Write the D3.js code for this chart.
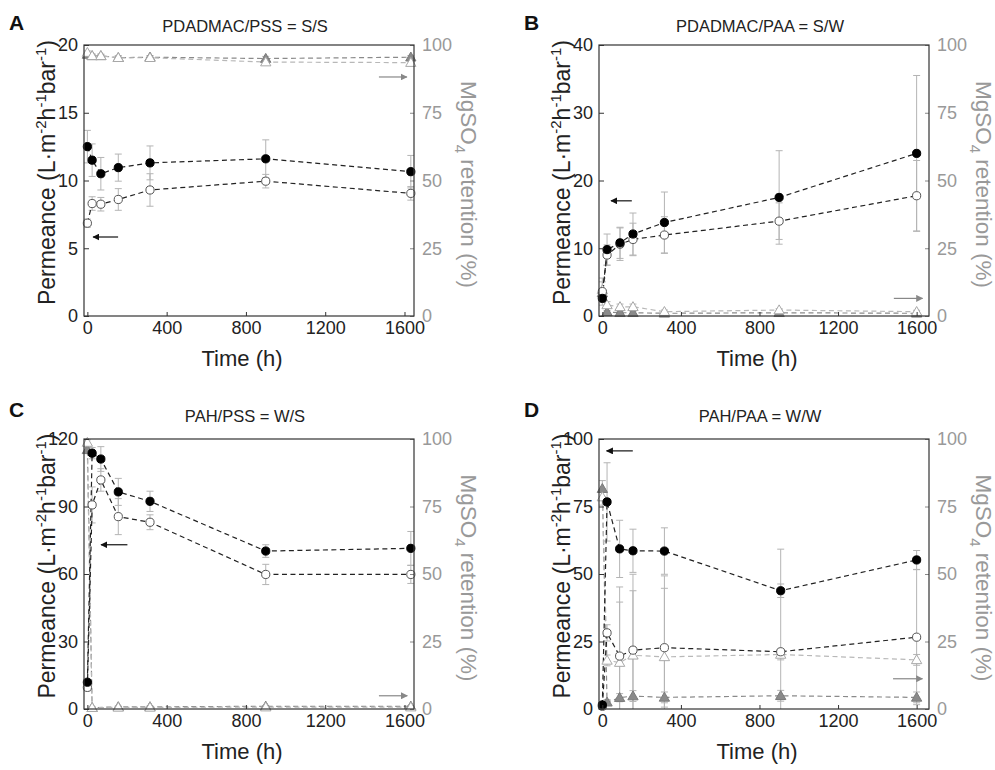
<!DOCTYPE html>
<html><head><meta charset="utf-8">
<script src="https://cdn.jsdelivr.net/npm/d3@7"></script>
<style>body{margin:0;background:#fff} svg{font-family:"Liberation Sans",Arial,Helvetica,sans-serif}</style>
</head><body><svg id="c" width="995" height="770"></svg>
<script>
// ---------------- DATA ----------------
const panelLetters = ["A", "B", "C", "D"];
const panelTitles = ["PDADMAC/PSS = S/S", "PDADMAC/PAA = S/W", "PAH/PSS = W/S", "PAH/PAA = W/W"];
const xTickValues = [0, 400, 800, 1200, 1600];
const rightTickValues = [0, 25, 50, 75, 100];
const leftTicksA = [0, 5, 10, 15, 20];
const leftTicksB = [0, 10, 20, 30, 40];
const leftTicksC = [0, 30, 60, 90, 120];
const leftTicksD = [0, 25, 50, 75, 100];

// Panel A
const timeA = [0, 24, 68, 156, 316, 900, 1632];
const permFilledA = [12.5, 11.5, 10.5, 10.95, 11.3, 11.6, 10.65];
const permFilledErrA = [1.2, 1.2, 1.2, 1.0, 1.25, 1.4, 1.2];
const permOpenA = [6.85, 8.3, 8.25, 8.6, 9.3, 9.95, 9.05];
const permOpenErrA = [0.3, 0.5, 0.5, 0.8, 1.2, 0.5, 0.5];
const retFilledA = [96.5, 96, 96, 95.3, 95.5, 95, 95.5];
const retFilledErrA = [0.6, 0.6, 0.6, 0.6, 0.6, 0.8, 0.6];
const retOpenA = [97.2, 96, 96, 95.3, 95.3, 93.7, 93.5];
const retOpenErrA = [0.6, 0.6, 0.6, 0.8, 0.6, 0.8, 0.6];

// Panel B
const timeB = [0, 24, 90, 156, 316, 900, 1600];
const permFilledB = [2.6, 9.8, 10.8, 12.1, 13.8, 17.5, 24.0];
const permFilledErrB = [0.5, 2.3, 2.3, 3.1, 4.5, 6.9, 11.5];
const permOpenB = [3.6, 9.0, 10.6, 11.3, 11.95, 14.0, 17.75];
const permOpenErrB = [2.0, 1.5, 2.4, 2.4, 2.7, 2.7, 5.2];
const retFilledB = [8.5, 1.5, 1.2, 1.2, 1.0, 1.2, 1.0];
const retFilledErrB = [1, 0.5, 0.5, 0.5, 0.4, 0.4, 0.4];
const retOpenB = [9.6, 4.1, 3.4, 3.4, 1.6, 2.2, 1.6];
const retOpenErrB = [3, 1.2, 1, 1, 0.6, 0.5, 0.5];

// Panel C
const timeC = [0, 24, 68, 156, 316, 900, 1632];
const permFilledC = [11.9, 113.7, 111.1, 96.5, 92.3, 70.2, 71.4];
const permFilledErrC = [1, 2.5, 5.5, 6, 4.5, 2.8, 7.5];
const permOpenC = [9.6, 90.7, 101.8, 85.5, 83.0, 59.8, 59.8];
const permOpenErrC = [1.5, 8, 5, 8, 3.3, 4.5, 4];
const retFilledC = [96, 0.5, null, 0.8, 0.8, 1.0, 1.0];
const retFilledErrC = [1, 0.3, null, 0.3, 0.3, 0.3, 0.3];
const retOpenC = [98.7, 0.5, null, 0.6, 0.6, 0.7, 0.7];
const retOpenErrC = [1, 0.3, null, 0.3, 0.3, 0.3, 0.3];

// Panel D
const timeD = [0, 24, 88, 156, 316, 908, 1600];
const permFilledD = [1.5, 76.7, 59.3, 58.6, 58.5, 43.8, 55.2];
const permFilledErrD = [0.5, 14.5, 10.6, 8, 8.6, 2.5, 3.5];
const permOpenD = [1.0, 28.2, 19.6, 21.8, 22.7, 21.2, 26.6];
const permOpenErrD = [0.5, 3, 20, 22, 22, 38, 25];
const retFilledD = [81.6, 2.5, 4.2, 4.8, 4.3, 4.9, 4.3];
const retFilledErrD = [3, 1, 1.5, 2, 2, 2, 2];
const retOpenD = [78.5, 18, 17.2, 19.9, 19.3, 20.2, 18.2];
const retOpenErrD = [3, 2, 28, 30, 30, 2, 2];

// Direction arrows [x0, x1, y] in data units (x1 = head)
const arrowPermA = [155, 29, 5.83], arrowRetA = [1471, 1612, 88.2];
const arrowPermB = [150, 44, 17.0], arrowRetB = [1484, 1630, 6.5];
const arrowPermC = [202, 69, 73], arrowRetC = [1471, 1614, 4.9];
const arrowPermD = [155, 22, 95.6], arrowRetD = [1480, 1630, 11.2];

// ---------------- LAYOUT ----------------
const layout = [
  {left: 84, right: 414, top: 45, bottom: 316, xDom: [-17, 1648], titleDy: 13, letterDy: 15},
  {left: 599, right: 929, top: 45, bottom: 316, xDom: [-17, 1663], titleDy: 13, letterDy: 15},
  {left: 84, right: 414, top: 439, bottom: 709, xDom: [-17, 1648], titleDy: 17, letterDy: 22},
  {left: 599, right: 929, top: 439, bottom: 709, xDom: [-17, 1663], titleDy: 17, letterDy: 22}
];
const panels = [
  {yMax: 20, yTicks: leftTicksA, t: timeA, pf: permFilledA, pfe: permFilledErrA, po: permOpenA, poe: permOpenErrA, rf: retFilledA, rfe: retFilledErrA, ro: retOpenA, roe: retOpenErrA, aP: arrowPermA, aR: arrowRetA},
  {yMax: 40, yTicks: leftTicksB, t: timeB, pf: permFilledB, pfe: permFilledErrB, po: permOpenB, poe: permOpenErrB, rf: retFilledB, rfe: retFilledErrB, ro: retOpenB, roe: retOpenErrB, aP: arrowPermB, aR: arrowRetB},
  {yMax: 120, yTicks: leftTicksC, t: timeC, pf: permFilledC, pfe: permFilledErrC, po: permOpenC, poe: permOpenErrC, rf: retFilledC, rfe: retFilledErrC, ro: retOpenC, roe: retOpenErrC, aP: arrowPermC, aR: arrowRetC},
  {yMax: 100, yTicks: leftTicksD, t: timeD, pf: permFilledD, pfe: permFilledErrD, po: permOpenD, poe: permOpenErrD, rf: retFilledD, rfe: retFilledErrD, ro: retOpenD, roe: retOpenErrD, aP: arrowPermD, aR: arrowRetD}
];

const svg = d3.select("#c");
const defs = svg.append("defs");
defs.append("marker").attr("id", "headK").attr("viewBox", "0 0 10 10").attr("refX", 9).attr("refY", 5)
  .attr("markerWidth", 7).attr("markerHeight", 7).attr("markerUnits", "userSpaceOnUse").attr("orient", "auto")
  .append("path").attr("d", "M0,0 L10,5 L0,10 z").attr("fill", "#111");
defs.append("marker").attr("id", "headG").attr("viewBox", "0 0 10 10").attr("refX", 9).attr("refY", 5)
  .attr("markerWidth", 7).attr("markerHeight", 7).attr("markerUnits", "userSpaceOnUse").attr("orient", "auto")
  .append("path").attr("d", "M0,0 L10,5 L0,10 z").attr("fill", "#888");

const ERR = "#b4b4b4";
const FONT = "Liberation Sans, Arial, sans-serif";
const triSym = d3.symbol().type(d3.symbolTriangle).size(46);

panels.forEach((p, i) => {
  const L = layout[i];
  const g = svg.append("g");
  const x = d3.scaleLinear().domain(L.xDom).range([L.left, L.right]);
  const yL = d3.scaleLinear().domain([0, p.yMax]).range([L.bottom, L.top]);
  const yR = d3.scaleLinear().domain([0, 100]).range([L.bottom, L.top]);
  const cx = (L.left + L.right) / 2, cy = (L.top + L.bottom) / 2;

  defs.append("clipPath").attr("id", "clip" + i).append("rect")
    .attr("x", L.left).attr("y", L.top).attr("width", L.right - L.left).attr("height", L.bottom - L.top);
  const plot = g.append("g").attr("clip-path", `url(#clip${i})`);

  const series = [
    {v: p.rf, e: p.rfe, y: yR, kind: "triF"},
    {v: p.ro, e: p.roe, y: yR, kind: "triO"},
    {v: p.po, e: p.poe, y: yL, kind: "cirO"},
    {v: p.pf, e: p.pfe, y: yL, kind: "cirF"}
  ];
  const rows = s => p.t.map((t, k) => ({t, v: s.v[k], e: s.e[k]})).filter(d => d.v != null);

  // error bars
  series.forEach(s => {
    const d = rows(s);
    const eb = plot.append("g").attr("stroke", ERR).attr("stroke-width", 1).attr("fill", "none");
    eb.selectAll("line.v").data(d).join("line").attr("class", "v")
      .attr("x1", r => x(r.t)).attr("x2", r => x(r.t))
      .attr("y1", r => s.y(r.v - r.e)).attr("y2", r => s.y(r.v + r.e));
    eb.selectAll("line.ct").data(d).join("line").attr("class", "ct")
      .attr("x1", r => x(r.t) - 3.5).attr("x2", r => x(r.t) + 3.5)
      .attr("y1", r => s.y(r.v + r.e)).attr("y2", r => s.y(r.v + r.e));
    eb.selectAll("line.cb").data(d).join("line").attr("class", "cb")
      .attr("x1", r => x(r.t) - 3.5).attr("x2", r => x(r.t) + 3.5)
      .attr("y1", r => s.y(r.v - r.e)).attr("y2", r => s.y(r.v - r.e));
  });

  // lines
  series.forEach(s => {
    const d = rows(s);
    const col = s.kind === "triO" ? "#b8b8b8" : s.kind === "triF" ? "#8a8a8a" : "#222";
    plot.append("path").datum(d)
      .attr("d", d3.line().x(r => x(r.t)).y(r => s.y(r.v)))
      .attr("fill", "none").attr("stroke", col).attr("stroke-width", 1.2)
      .attr("stroke-dasharray", "5,3.5");
  });

  // markers
  series.forEach(s => {
    const d = rows(s);
    const mg = g.append("g");
    if (s.kind.startsWith("tri")) {
      mg.selectAll("path").data(d).join("path")
        .attr("d", triSym)
        .attr("transform", r => `translate(${x(r.t)},${s.y(r.v) + 0.8})`)
        .attr("fill", s.kind === "triF" ? "#8a8a8a" : "#fff")
        .attr("stroke", s.kind === "triF" ? "#7a7a7a" : "#a8a8a8").attr("stroke-width", 1);
    } else {
      mg.selectAll("circle").data(d).join("circle")
        .attr("cx", r => x(r.t)).attr("cy", r => s.y(r.v)).attr("r", 4.1)
        .attr("fill", s.kind === "cirF" ? "#000" : "#fff")
        .attr("stroke", s.kind === "cirF" ? "#000" : "#555").attr("stroke-width", 1);
    }
  });

  // arrows
  g.append("line").attr("x1", x(p.aP[0])).attr("x2", x(p.aP[1])).attr("y1", yL(p.aP[2])).attr("y2", yL(p.aP[2]))
    .attr("stroke", "#111").attr("stroke-width", 1.2).attr("marker-end", "url(#headK)");
  g.append("line").attr("x1", x(p.aR[0])).attr("x2", x(p.aR[1])).attr("y1", yR(p.aR[2])).attr("y2", yR(p.aR[2]))
    .attr("stroke", "#888").attr("stroke-width", 1.2).attr("marker-end", "url(#headG)");

  // axes
  const fmt = d3.format("d");
  const ax = g.append("g").attr("transform", `translate(0,${L.bottom})`)
    .call(d3.axisBottom(x).tickValues(xTickValues).tickFormat(fmt).tickSizeInner(-4).tickSizeOuter(0).tickPadding(5));
  const ayl = g.append("g").attr("transform", `translate(${L.left},0)`)
    .call(d3.axisLeft(yL).tickValues(p.yTicks).tickFormat(fmt).tickSizeInner(-5).tickSizeOuter(0).tickPadding(6));
  const ayr = g.append("g").attr("transform", `translate(${L.right},0)`)
    .call(d3.axisRight(yR).tickValues(rightTickValues).tickFormat(fmt).tickSizeInner(-4).tickSizeOuter(0).tickPadding(8));
  [ax, ayl, ayr].forEach(a => {
    a.select(".domain").remove();
    a.selectAll("text").attr("font-size", 18).attr("font-family", FONT);
  });
  ax.selectAll("line").attr("stroke", "#333");
  ax.selectAll("text").attr("fill", "#222");
  ayl.selectAll("line").attr("stroke", "#333");
  ayl.selectAll("text").attr("fill", "#222");
  ayr.selectAll("line").attr("stroke", "#888");
  ayr.selectAll("text").attr("fill", "#999");

  g.append("rect").attr("x", L.left).attr("y", L.top).attr("width", L.right - L.left).attr("height", L.bottom - L.top)
    .attr("fill", "none").attr("stroke", "#333").attr("stroke-width", 1.2);

  // titles
  g.append("text").attr("x", L.left - 75).attr("y", L.top - L.letterDy).attr("font-size", 21).attr("font-weight", "bold")
    .attr("fill", "#111").text(panelLetters[i]);
  g.append("text").attr("x", cx - 4).attr("y", L.top - L.titleDy).attr("text-anchor", "middle").attr("font-size", 16.5)
    .attr("fill", "#222").text(panelTitles[i]);

  // x label
  g.append("text").attr("x", cx - 7).attr("y", L.bottom + 50).attr("text-anchor", "middle").attr("font-size", 22)
    .attr("fill", "#222").text("Time (h)");

  // left y label
  const yl = g.append("text").attr("transform", `translate(${L.left - 29},${cy - 8}) rotate(-90)`)
    .attr("text-anchor", "middle").attr("font-size", 23).attr("fill", "#222");
  yl.append("tspan").text("Permeance (L·m");
  yl.append("tspan").attr("font-size", 15).attr("dy", -9).text("-2");
  yl.append("tspan").attr("dy", 9).text("h");
  yl.append("tspan").attr("font-size", 15).attr("dy", -9).text("-1");
  yl.append("tspan").attr("dy", 9).text("bar");
  yl.append("tspan").attr("font-size", 15).attr("dy", -9).text("-1");
  yl.append("tspan").attr("dy", 9).text(")");

  // right y label
  const yr = g.append("text").attr("transform", `translate(${L.right + 47},${cy + 4}) rotate(90)`)
    .attr("text-anchor", "middle").attr("font-size", 22.5).attr("fill", "#999");
  yr.append("tspan").text("MgSO");
  yr.append("tspan").attr("font-size", 15).attr("dy", 6).text("4");
  yr.append("tspan").attr("dy", -6).text(" retention (%)");
});
</script></body></html>
